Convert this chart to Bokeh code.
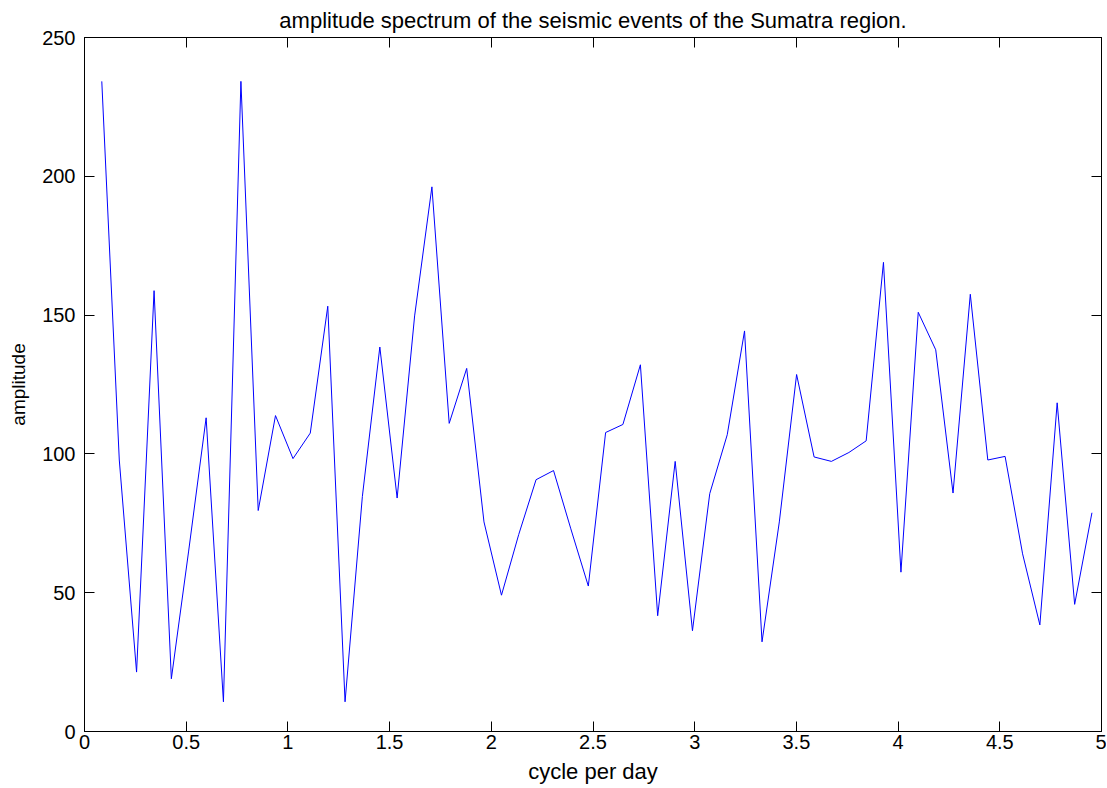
from bokeh.plotting import figure
from bokeh.models import LinearAxis, NumeralTickFormatter, FixedTicker, Range1d, Title
from bokeh.embed import file_html
from bokeh.resources import INLINE

# frequency (cycle per day)
freq = [0.085, 0.171, 0.256, 0.342, 0.427, 0.512, 0.598, 0.683, 0.769, 0.854,
        0.939, 1.025, 1.110, 1.196, 1.281, 1.366, 1.452, 1.537, 1.623, 1.708,
        1.793, 1.879, 1.964, 2.050, 2.135, 2.220, 2.306, 2.391, 2.477, 2.562,
        2.647, 2.733, 2.818, 2.904, 2.989, 3.074, 3.160, 3.245, 3.331, 3.416,
        3.501, 3.587, 3.672, 3.758, 3.843, 3.928, 4.014, 4.099, 4.185, 4.270,
        4.355, 4.441, 4.526, 4.612, 4.697, 4.782, 4.868, 4.953]
# amplitude
amp = [234.2, 97.8, 21.4, 158.8, 19.0, 65.0, 113.0, 10.7, 234.2, 79.6,
       113.8, 98.3, 107.5, 153.2, 10.7, 84.6, 138.5, 84.1, 149.7, 196.2,
       111.0, 130.8, 75.5, 49.1, 71.0, 90.7, 94.0, 73.0, 52.4, 107.7,
       110.6, 132.1, 41.7, 97.3, 36.3, 85.7, 106.9, 144.3, 32.3, 75.5,
       128.6, 98.9, 97.3, 100.5, 104.7, 169.0, 57.4, 151.0, 137.5, 85.9,
       157.5, 97.8, 99.1, 64.0, 38.4, 118.4, 45.8, 78.8]

x_ticks = [0, 0.5, 1, 1.5, 2, 2.5, 3, 3.5, 4, 4.5, 5]
y_ticks = [0, 50, 100, 150, 200, 250]
title_text = "amplitude spectrum of the seismic events of the Sumatra region."

FONT = "Liberation Sans"

p = figure(width=1106, height=786, output_backend="svg", toolbar_location=None,
           x_range=Range1d(0, 5), y_range=Range1d(0, 250),
           x_axis_location=None, y_axis_location=None,
           min_border_left=84, min_border_right=5, min_border_top=37, min_border_bottom=53)
p.title = Title(text=title_text, align="center", text_font=FONT, text_font_size="22px",
                text_font_style="normal", text_color="black", standoff=9)
p.grid.visible = False
p.outline_line_color = "black"
p.outline_line_width = 1
p.background_fill_color = "white"
p.border_fill_color = "white"

def style_axis(ax, labels=True):
    ax.axis_line_color = "black"
    ax.major_tick_in = 10
    ax.major_tick_out = 0
    ax.minor_tick_line_color = None
    ax.major_tick_line_color = "black"
    ax.major_label_text_font = FONT
    ax.major_label_text_font_size = "20px"
    ax.major_label_text_color = "black"
    ax.axis_label_text_font = FONT
    ax.axis_label_text_font_size = "22px"
    ax.axis_label_text_font_style = "normal"
    ax.axis_label_text_color = "black"
    if not labels:
        ax.major_label_text_font_size = "0px"
        ax.major_label_text_color = None
        ax.major_label_standoff = 0

xb = LinearAxis(ticker=FixedTicker(ticks=x_ticks), formatter=NumeralTickFormatter(format="0.[0]"),
                axis_label="cycle per day", major_label_standoff=3, axis_label_standoff=7)
yl = LinearAxis(ticker=FixedTicker(ticks=y_ticks), axis_label="amplitude",
                major_label_standoff=9, axis_label_standoff=10)
xt = LinearAxis(ticker=FixedTicker(ticks=x_ticks))
yr = LinearAxis(ticker=FixedTicker(ticks=y_ticks))
style_axis(xb)
style_axis(yl)
yl.axis_label_text_font_size = "19px"
style_axis(xt, labels=False)
style_axis(yr, labels=False)
p.add_layout(xb, "below")
p.add_layout(yl, "left")
p.add_layout(xt, "above")
p.add_layout(yr, "right")

p.line(freq, amp, line_color="#0000ff", line_width=1)

open("out.html", "w").write(file_html(p, INLINE))
